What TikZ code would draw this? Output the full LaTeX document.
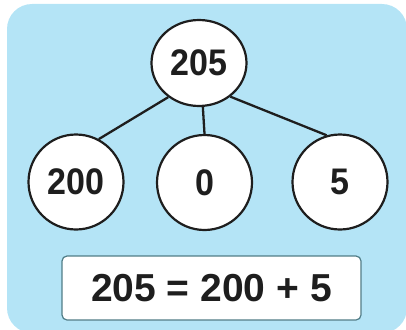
\documentclass[tikz,border=0pt]{standalone}
\usepackage{fontspec}
\setmainfont{Liberation Sans}
\newfontfamily\narrowsans[FakeStretch=0.92]{Liberation Sans}
\usetikzlibrary{shapes.geometric}
\definecolor{bgblue}{RGB}{180,228,246}
\definecolor{ink}{RGB}{30,30,30}
\definecolor{boxedge}{RGB}{80,125,135}
\tikzset{
  bubble/.style={circle, draw=ink, line width=2.2pt, fill=white, minimum size=95pt, inner sep=0pt,
    text=ink, font=\narrowsans\bfseries\fontsize{37}{42}\selectfont},
  topbubble/.style={ellipse, draw=ink, line width=2.2pt, fill=white, minimum width=95pt, minimum height=86pt, inner sep=0pt,
    text=ink, font=\narrowsans\bfseries\fontsize{37}{42}\selectfont},
  link/.style={draw=ink, line width=2.3pt},
  eqbox/.style={draw=boxedge, line width=1.2pt, fill=white, rounded corners=5pt, minimum width=299pt, minimum height=64pt,
    inner sep=0pt, text=ink, font=\bfseries\fontsize{39}{44}\selectfont}
}
\begin{document}
\begin{tikzpicture}[x=1pt,y=-1pt]
\useasboundingbox (0,0) rectangle (406,329);
\fill[bgblue, rounded corners=25pt] (7,4) rectangle (407,333);
\node[topbubble] (top) at (199,63) {205};
\node[bubble] (a) at (76,182) {200};
\node[bubble] (b) at (204.5,182.5) {0};
\node[bubble] (c) at (340,182) {5};
\draw[link] (top.228) -- (a.62);
\draw[link] (top.275) -- (b.north);
\draw[link] (top.313) -- (c.106);
\node[eqbox] (eq) at (211.5,288) {205 = 200 + 5};
\end{tikzpicture}
\end{document}
